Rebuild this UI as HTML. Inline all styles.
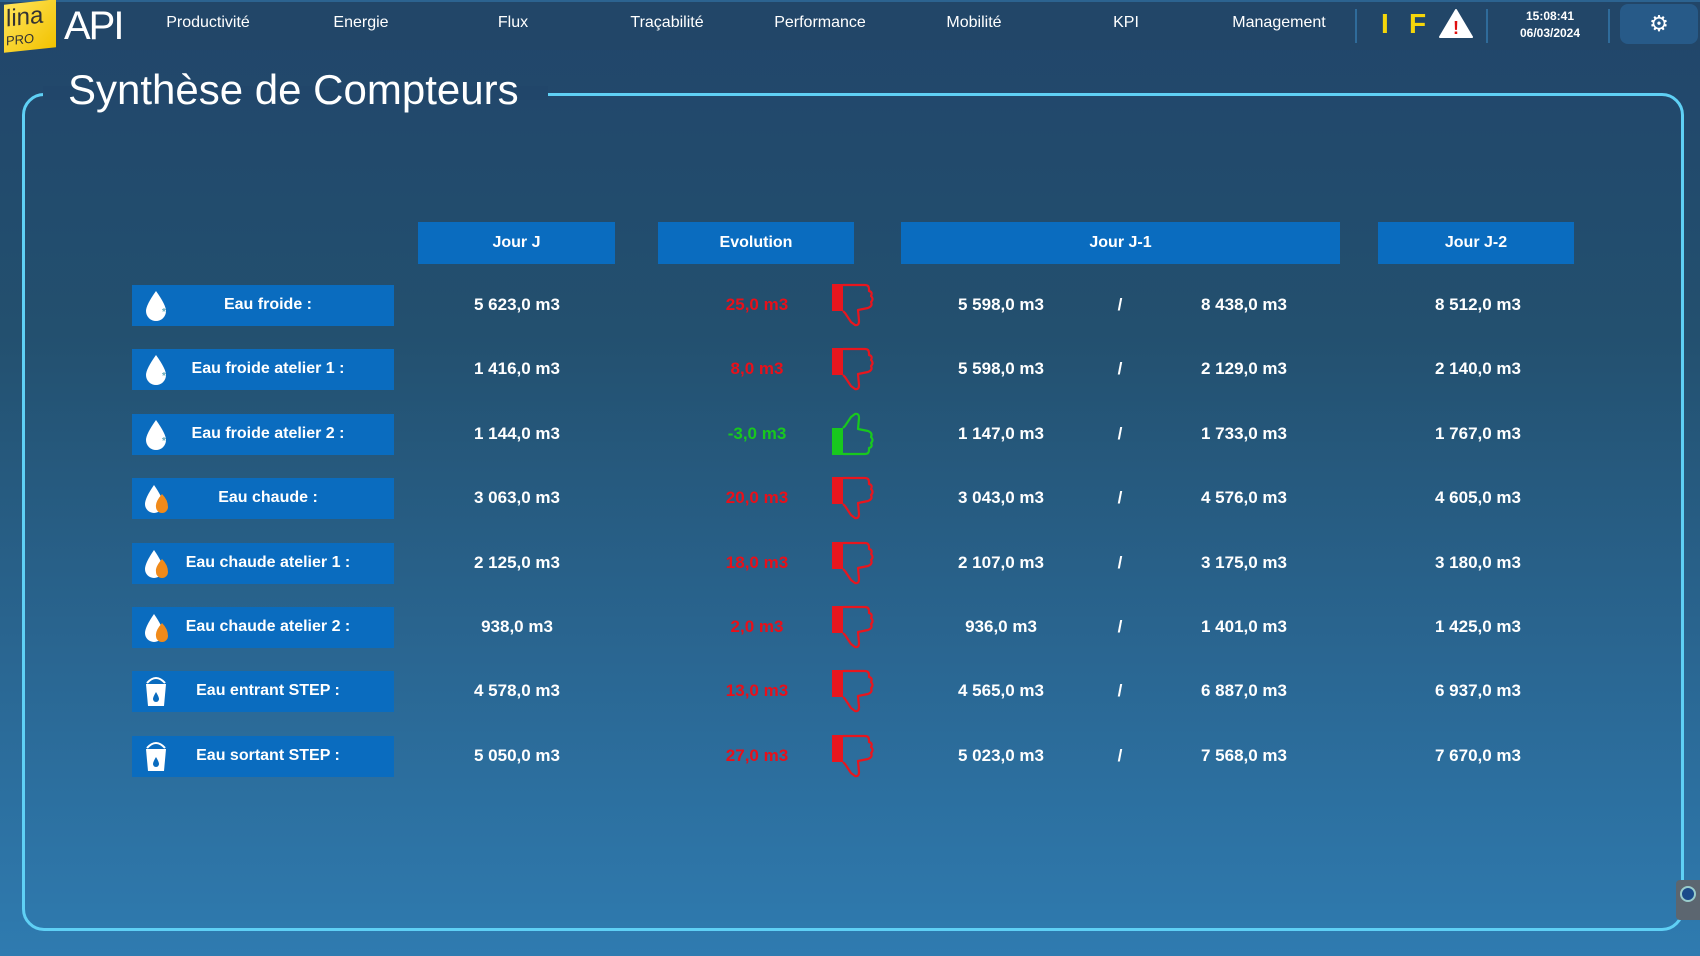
<!DOCTYPE html>
<html><head><meta charset="utf-8">
<style>
*{margin:0;padding:0;box-sizing:border-box}
body{width:1700px;height:956px;overflow:hidden;font-family:"Liberation Sans",Arial,sans-serif;background:linear-gradient(180deg,#21456a 0%,#23506f 35%,#2a6793 70%,#2f7bb0 100%);position:relative;color:#fff}
.top{position:absolute;left:0;top:0;width:1700px;height:50px;background:#224668;border-top:2px solid #2c6390}
.nav{position:absolute;top:14px;font-size:16px;color:#fff;transform:translateX(-50%)}
.sep{position:absolute;top:9px;width:2px;height:34px;background:#2f6b9a}
.frame{position:absolute;left:22px;top:93px;width:1662px;height:838px;border:3px solid #5fd0f5;border-radius:22px}
.gap{position:absolute;left:43px;top:86px;width:505px;height:14px;background:#21466a}
.title{position:absolute;left:68px;top:66px;font-size:42px;color:#fff}
.hdr{position:absolute;top:222px;height:42px;background:#0a6cbf;font-weight:bold;font-size:16px;display:flex;align-items:center;justify-content:center}
.lab{position:absolute;left:132px;width:262px;height:41px;background:#0a6cbf;font-weight:bold;font-size:16px}
.lab span{position:absolute;left:0;right:0;top:11px;text-align:center;padding-left:10px}
.val{position:absolute;font-weight:bold;font-size:17px;transform:translate(-50%,-50%);white-space:nowrap}
</style></head><body>
<div class="top"></div>
<div style="position:absolute;left:4px;top:2px;width:52px;height:48px;background:linear-gradient(135deg,#ffe45a,#f2c200);transform:skewY(-6deg);color:#333;font-size:22px;line-height:22px;padding:4px 2px"><div style="font-size:24px">lina</div><div style="font-size:13px">PRO</div></div>
<div style="position:absolute;left:64px;top:4px;font-size:40px;color:#fff;letter-spacing:-2px">API</div>
<div class="nav" style="left:208px">Productivité</div>
<div class="nav" style="left:361px">Energie</div>
<div class="nav" style="left:513px">Flux</div>
<div class="nav" style="left:667px">Traçabilité</div>
<div class="nav" style="left:820px">Performance</div>
<div class="nav" style="left:974px">Mobilité</div>
<div class="nav" style="left:1126px">KPI</div>
<div class="nav" style="left:1279px">Management</div>
<div class="sep" style="left:1355px"></div>
<div style="position:absolute;left:1381px;top:8px;font-size:28px;font-weight:bold;color:#f5d60a">I</div>
<div style="position:absolute;left:1409px;top:8px;font-size:28px;font-weight:bold;color:#f5d60a">F</div>
<svg style="position:absolute;left:1439px;top:8px" width="34" height="30"><path d="M17 2 L33 29 L1 29 Z" fill="#fff" stroke="#fff" stroke-linejoin="round" stroke-width="2"/><text x="17" y="26" text-anchor="middle" font-size="18" font-weight="bold" fill="#e01010" font-family="Liberation Sans">!</text></svg>
<div class="sep" style="left:1486px"></div>
<div style="position:absolute;left:1518px;top:8px;width:64px;text-align:center;font-size:12px;font-weight:bold;line-height:17px">15:08:41<br>06/03/2024</div>
<div class="sep" style="left:1608px"></div>
<div style="position:absolute;left:1620px;top:4px;width:78px;height:40px;background:#275a88;border-radius:8px;text-align:center;font-size:22px;line-height:40px">⚙</div>

<div class="frame"></div>
<div class="gap"></div>
<div class="title">Synthèse de Compteurs</div>
<div style="position:absolute;left:1676px;top:880px;width:24px;height:40px;background:#5c6670;border-radius:4px 0 0 4px"><div style="margin:6px 4px;width:16px;height:16px;border-radius:50%;background:#1a4a8a;border:2px solid #9cc"></div></div>

<div class="hdr" style="left:418px;width:197px">Jour J</div>
<div class="hdr" style="left:658px;width:196px">Evolution</div>
<div class="hdr" style="left:901px;width:439px">Jour J-1</div>
<div class="hdr" style="left:1378px;width:196px">Jour J-2</div>
<div id="rows"></div>
<script>
const labels=["Eau froide :","Eau froide atelier 1 :","Eau froide atelier 2 :","Eau chaude :","Eau chaude atelier 1 :","Eau chaude atelier 2 :","Eau entrant STEP :","Eau sortant STEP :"];
const icons=["cold","cold","cold","hot","hot","hot","bucket","bucket"];
const jourJ=[5623,1416,1144,3063,2125,938,4578,5050];
const jourJ1a=[5598,5598,1147,3043,2107,936,4565,5023];
const jourJ1b=[8438,2129,1733,4576,3175,1401,6887,7568];
const jourJ2=[8512,2140,1767,4605,3180,1425,6937,7670];
const evolution=[25,8,-3,20,18,2,13,27];

function fmt(v){const s=Math.abs(v).toFixed(1).split('.');const i=s[0].replace(/\B(?=(\d{3})+(?!\d))/g,' ');return (v<0?'-':'')+i+','+s[1]+' m3';}
const root=document.getElementById('rows');
function rowY(i){return 305+i*64.4;}
function iconSvg(t){
 if(t==='cold')return '<svg width="30" height="34" style="position:absolute;left:10px;top:4px"><path d="M14 2 Q4 16 4 22 A10 10 0 0 0 24 22 Q24 16 14 2Z" fill="#fff"/><text x="20" y="26" font-size="10" fill="#6ab">*</text></svg>';
 if(t==='hot')return '<svg width="30" height="34" style="position:absolute;left:10px;top:4px"><path d="M12 3 Q3 16 3 22 A9 9 0 0 0 21 22 Q21 16 12 3Z" fill="#fff"/><path d="M20 12 Q13 20 14 25 A6 6 0 0 0 26 25 Q26 18 20 12Z" fill="#f08a1a"/></svg>';
 return '<svg width="30" height="34" style="position:absolute;left:10px;top:4px"><path d="M5 8 Q14 -2 23 8" stroke="#fff" stroke-width="2" fill="none"/><path d="M4 9 L24 9 L22 31 L6 31Z" fill="#fff"/><path d="M14 17 Q11 22 11 24 A3 3 0 0 0 17 24 Q17 22 14 17Z" fill="#0a6cbf"/></svg>';
}
function thumb(up){
 const c=up?'#18c81e':'#e8161e';
 const tr=up?'transform="translate(0,44) scale(1,-1)"':'';
 return '<svg width="46" height="46"><g '+tr+'><rect x="1" y="1" width="11" height="27" fill="'+c+'"/><path d="M12 2 L34 2 Q38 2 38 6 L38 8 Q42 9 40 13 Q43 16 40 19 Q42 23 37 25 L27 27 L28 38 Q28 43 24 42 L20 39 L14 30 L12 28" fill="none" stroke="'+c+'" stroke-width="2.2" stroke-linejoin="round"/></g></svg>';
}
labels.forEach((l,i)=>{
 const y=rowY(i);
 const lab=document.createElement('div');
 lab.className='lab';lab.style.top=(y-20)+'px';
 
 
 lab.innerHTML=iconSvg(icons[i])+'<span>'+l+'</span>';
 root.appendChild(lab);
 const cells=[[517,fmt(jourJ[i]),'#fff','value-jour-j'],[757,fmt(evolution[i]),evolution[i]<0?'#18c81e':'#e8101a','value-evolution'],[1001,fmt(jourJ1a[i]),'#fff','value-jour-j-1-a'],[1120,'/','#fff','separator-slash'],[1244,fmt(jourJ1b[i]),'#fff','value-jour-j-1-b'],[1478,fmt(jourJ2[i]),'#fff','value-jour-j-2']];
 cells.forEach(c=>{
  const d=document.createElement('div');
  d.className='val';d.style.left=c[0]+'px';d.style.top=y+'px';d.style.color=c[2];
  d.textContent=c[1];
  
  
  root.appendChild(d);
 });
 const t=document.createElement('div');
 t.style.cssText='position:absolute;left:831px;top:'+(y-22)+'px';
 t.innerHTML=thumb(evolution[i]<0);
 
 
 root.appendChild(t);
});
</script>
</body></html>
